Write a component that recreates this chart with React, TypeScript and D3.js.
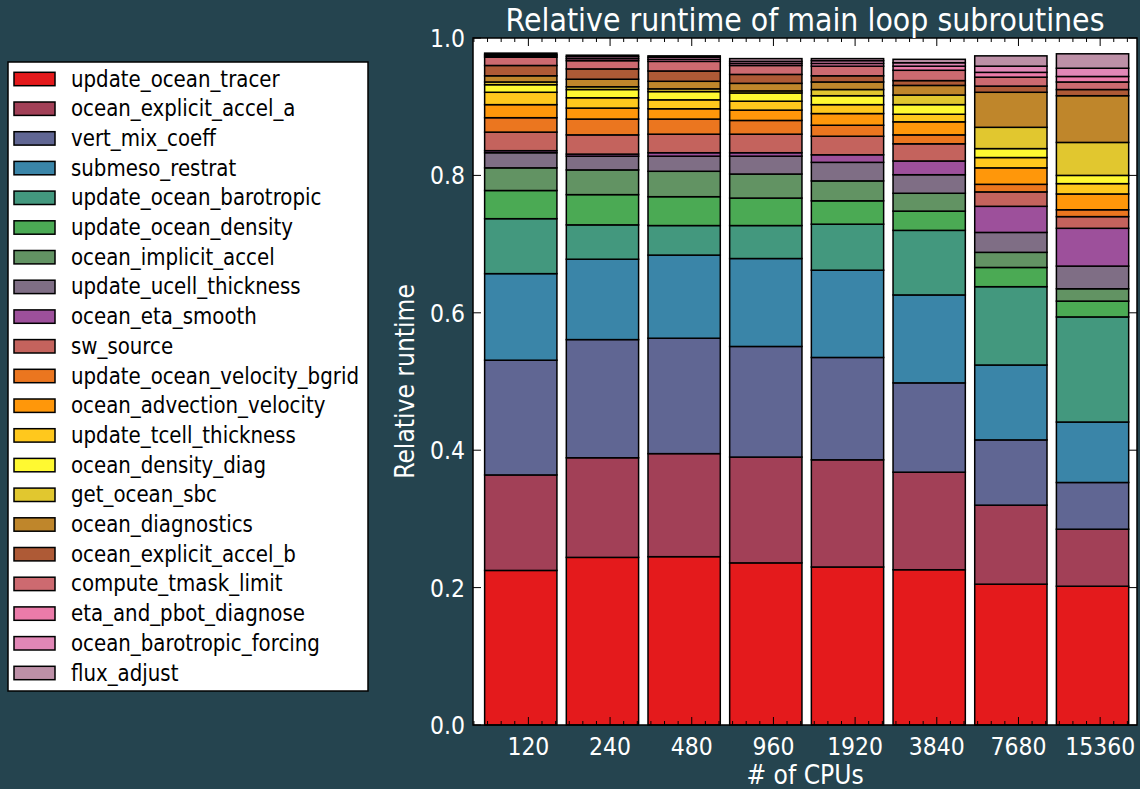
import React, { useEffect, useRef } from 'react';
import * as d3 from 'd3';

const cpus = [120, 240, 480, 960, 1920, 3840, 7680, 15360];
const cpuLabels = ['120', '240', '480', '960', '1920', '3840', '7680', '15360'];
const yTickValues = [0, 0.2, 0.4, 0.6, 0.8, 1.0];

// one array per subroutine, one value per CPU count (fraction of total runtime)
const updateOceanTracer = [0.225, 0.244, 0.245, 0.236, 0.230, 0.226, 0.205, 0.202];
const oceanExplicitAccelA = [0.139, 0.145, 0.150, 0.154, 0.156, 0.142, 0.115, 0.083];
const vertMixCoeff = [0.167, 0.172, 0.168, 0.161, 0.149, 0.130, 0.095, 0.068];
const submesoRestrat = [0.126, 0.117, 0.121, 0.128, 0.127, 0.128, 0.109, 0.088];
const updateOceanBarotropic = [0.080, 0.050, 0.043, 0.048, 0.067, 0.094, 0.114, 0.153];
const updateOceanDensity = [0.041, 0.044, 0.042, 0.040, 0.034, 0.028, 0.028, 0.023];
const oceanImplicitAccel = [0.033, 0.036, 0.037, 0.035, 0.029, 0.026, 0.022, 0.018];
const updateUcellThickness = [0.022, 0.020, 0.022, 0.026, 0.027, 0.027, 0.029, 0.033];
const oceanEtaSmooth = [0.003, 0.003, 0.005, 0.005, 0.011, 0.020, 0.038, 0.055];
const swSource = [0.027, 0.028, 0.027, 0.027, 0.027, 0.025, 0.021, 0.017];
const updateOceanVelocityBgrid = [0.021, 0.023, 0.022, 0.020, 0.016, 0.013, 0.011, 0.010];
const oceanAdvectionVelocity = [0.019, 0.016, 0.015, 0.015, 0.017, 0.019, 0.024, 0.023];
const updateTcellThickness = [0.018, 0.015, 0.013, 0.013, 0.013, 0.011, 0.015, 0.015];
const oceanDensityDiag = [0.011, 0.012, 0.012, 0.012, 0.013, 0.014, 0.013, 0.012];
const getOceanSbc = [0.004, 0.004, 0.004, 0.003, 0.009, 0.014, 0.031, 0.048];
const oceanDiagnostics = [0.009, 0.011, 0.011, 0.011, 0.011, 0.014, 0.051, 0.068];
const oceanExplicitAccelB = [0.015, 0.015, 0.015, 0.013, 0.009, 0.007, 0.009, 0.009];
const computeTmaskLimit = [0.012, 0.012, 0.014, 0.013, 0.014, 0.015, 0.013, 0.011];
const etaAndPbotDiagnose = [0.002, 0.003, 0.003, 0.003, 0.004, 0.006, 0.007, 0.008];
const oceanBarotropicForcing = [0.002, 0.003, 0.003, 0.003, 0.004, 0.005, 0.009, 0.012];
const fluxAdjust = [0.002, 0.002, 0.002, 0.004, 0.003, 0.005, 0.015, 0.021];

const routineNames = [
  'update_ocean_tracer', 'ocean_explicit_accel_a', 'vert_mix_coeff', 'submeso_restrat',
  'update_ocean_barotropic', 'update_ocean_density', 'ocean_implicit_accel',
  'update_ucell_thickness', 'ocean_eta_smooth', 'sw_source', 'update_ocean_velocity_bgrid',
  'ocean_advection_velocity', 'update_tcell_thickness', 'ocean_density_diag', 'get_ocean_sbc',
  'ocean_diagnostics', 'ocean_explicit_accel_b', 'compute_tmask_limit',
  'eta_and_pbot_diagnose', 'ocean_barotropic_forcing', 'flux_adjust',
];
const routineValues = [
  updateOceanTracer, oceanExplicitAccelA, vertMixCoeff, submesoRestrat, updateOceanBarotropic,
  updateOceanDensity, oceanImplicitAccel, updateUcellThickness, oceanEtaSmooth, swSource,
  updateOceanVelocityBgrid, oceanAdvectionVelocity, updateTcellThickness, oceanDensityDiag,
  getOceanSbc, oceanDiagnostics, oceanExplicitAccelB, computeTmaskLimit, etaAndPbotDiagnose,
  oceanBarotropicForcing, fluxAdjust,
];

const set1 = ['#e41a1c', '#377eb8', '#4daf4a', '#984ea3', '#ff7f00', '#ffff33', '#a65628', '#f781bf', '#999999'];

const WIDTH = 1140;
const HEIGHT = 789;
const BG = '#25444f';
const FONT = 'DejaVu Sans';
const STRETCH = 1.15;

const App = () => {
  const chartRef = useRef<SVGSVGElement | null>(null);

  useEffect(() => {
    const svg = d3.select(chartRef.current);
    svg.selectAll('*').remove();

    const plotLeft = 473;
    const plotRight = 1137;
    const plotTop = 38;
    const plotBottom = 725;

    const x = d3.scaleLog().base(2).domain([80, 22400]).range([plotLeft, plotRight]);
    const y = d3.scaleLinear().domain([0, 1]).range([plotBottom, plotTop]);
    const colorAt = d3.piecewise(d3.interpolateRgb, set1);
    const color = (i: number) => d3.color(colorAt(i / routineNames.length))!.formatHex();
    const half = 2 ** (0.885 / 2);

    const label = (g: any, text: string, tx: number, ty: number, size: number, anchor: string, fill: string, rotate = 0) =>
      g.append('text')
        .attr('transform', `translate(${tx},${ty}) rotate(${rotate}) scale(1,${STRETCH})`)
        .attr('font-family', FONT)
        .attr('font-size', size)
        .attr('text-anchor', anchor)
        .attr('fill', fill)
        .text(text);

    svg.append('rect').attr('width', WIDTH).attr('height', HEIGHT).attr('fill', BG);

    // plot area
    svg.append('rect')
      .attr('x', plotLeft).attr('y', plotTop)
      .attr('width', plotRight - plotLeft).attr('height', plotBottom - plotTop)
      .attr('fill', '#ffffff');

    const rows = cpus.map((c, j) => {
      const row: any = { cpu: c };
      routineNames.forEach((n, i) => { row[n] = routineValues[i][j]; });
      return row;
    });
    const series = d3.stack().keys(routineNames)(rows);

    svg.append('g')
      .selectAll('g')
      .data(series)
      .join('g')
        .attr('fill', (_d, i) => color(i))
      .selectAll('rect')
      .data(d => d)
      .join('rect')
        .attr('x', d => x(d.data.cpu / half))
        .attr('width', d => x(d.data.cpu * half) - x(d.data.cpu / half))
        .attr('y', d => y(d[1]))
        .attr('height', d => y(d[0]) - y(d[1]))
        .attr('stroke', '#000')
        .attr('stroke-width', 1.5);

    // ticks (inward, all four sides)
    const ticks = svg.append('g').attr('stroke', '#000').attr('stroke-width', 1);
    const majorX = d3.range(7, 15).map(n => 2 ** n);
    const minorX: number[] = [];
    d3.range(6, 15).forEach(n => d3.range(1, 6).forEach(k => {
      const v = 2 ** (n + k / 6);
      if (v > 80 && v < 22400) minorX.push(v);
    }));
    majorX.forEach(v => {
      ticks.append('line').attr('x1', x(v)).attr('x2', x(v)).attr('y1', plotBottom).attr('y2', plotBottom - 8);
      ticks.append('line').attr('x1', x(v)).attr('x2', x(v)).attr('y1', plotTop).attr('y2', plotTop + 8);
    });
    minorX.forEach(v => {
      ticks.append('line').attr('x1', x(v)).attr('x2', x(v)).attr('y1', plotBottom).attr('y2', plotBottom - 4);
      ticks.append('line').attr('x1', x(v)).attr('x2', x(v)).attr('y1', plotTop).attr('y2', plotTop + 4);
    });
    yTickValues.forEach(v => {
      ticks.append('line').attr('x1', plotLeft).attr('x2', plotLeft + 8).attr('y1', y(v)).attr('y2', y(v));
      ticks.append('line').attr('x1', plotRight).attr('x2', plotRight - 8).attr('y1', y(v)).attr('y2', y(v));
    });

    svg.append('rect')
      .attr('x', plotLeft).attr('y', plotTop)
      .attr('width', plotRight - plotLeft).attr('height', plotBottom - plotTop)
      .attr('fill', 'none').attr('stroke', '#000').attr('stroke-width', 1.5);

    const texts = svg.append('g');
    yTickValues.forEach(v => label(texts, d3.format('.1f')(v), 465, y(v) + 9, 22, 'end', '#fff'));
    majorX.forEach((v, j) => label(texts, cpuLabels[j], x(v), 755, 22, 'middle', '#fff'));
    label(texts, '# of CPUs', (plotLeft + plotRight) / 2, 784, 23.5, 'middle', '#fff');
    label(texts, 'Relative runtime', 414, (plotTop + plotBottom) / 2, 23.5, 'middle', '#fff', -90);
    label(texts, 'Relative runtime of main loop subroutines', (plotLeft + plotRight) / 2, 31, 28.5, 'middle', '#fff');

    // legend
    const legend = svg.append('g');
    legend.append('rect')
      .attr('x', 8).attr('y', 62).attr('width', 360).attr('height', 629)
      .attr('fill', '#fff').attr('stroke', '#000').attr('stroke-width', 1.5);
    routineNames.forEach((n, i) => {
      const cy = 79 + i * 29.7;
      legend.append('rect')
        .attr('x', 14).attr('y', cy - 6.7).attr('width', 41).attr('height', 13.4)
        .attr('fill', color(i)).attr('stroke', '#000').attr('stroke-width', 1.5);
      label(legend, n, 71, cy + 7.5, 19.8, 'start', '#000');
    });
  }, []);

  return (
    <div style={{ width: WIDTH, height: HEIGHT }}>
      <svg
        ref={chartRef}
        width={WIDTH}
        height={HEIGHT}
        style={{ position: 'absolute', left: 0, top: 0, display: 'block' }}
      ></svg>
    </div>
  );
};

export default App;
